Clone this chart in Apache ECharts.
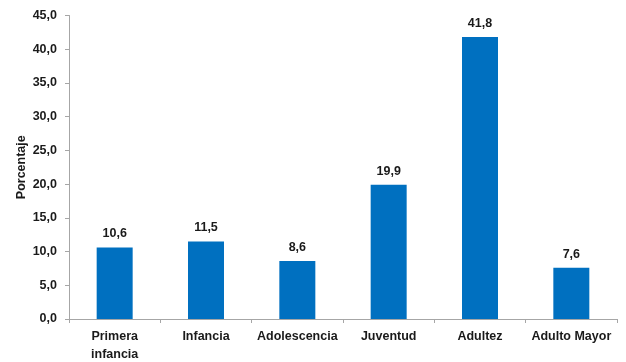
<!DOCTYPE html>
<html>
<head>
<meta charset="utf-8">
<script src="https://cdn.jsdelivr.net/npm/echarts@6/dist/echarts.min.js"></script>
<style>
  html, body { margin: 0; padding: 0; background: #fff; }
  #chart { width: 626px; height: 362px; }
</style>
</head>
<body>
<div id="chart"></div>
<script>
// Distribución porcentual por ciclo de vida
const categories = ['Primera\ninfancia', 'Infancia', 'Adolescencia', 'Juventud', 'Adultez', 'Adulto Mayor'];
const values = [10.6, 11.5, 8.6, 19.9, 41.8, 7.6];
const yMin = 0;
const yMax = 45;
const yStep = 5;

const fmt = v => v.toFixed(1).replace('.', ',');
const font = '"Liberation Sans", Arial, sans-serif';
const fs = 12.5;
const axisGrey = '#a6a6a6';
const textColor = '#1a1a1a';

const chart = echarts.init(document.getElementById('chart'), null, { renderer: 'canvas' });
chart.setOption({
  animation: false,
  backgroundColor: '#ffffff',
  grid: { left: 69, right: 9, top: 15.5, bottom: 43, containLabel: false, outerBoundsMode: 'none' },
  xAxis: {
    type: 'category',
    data: categories,
    axisLine: { lineStyle: { color: axisGrey, width: 1 } },
    axisTick: { show: true, alignWithLabel: false, length: 4, lineStyle: { color: axisGrey } },
    axisLabel: {
      color: textColor, fontFamily: font, fontWeight: 'bold', fontSize: fs,
      margin: 9, lineHeight: 18, interval: 0
    }
  },
  yAxis: {
    type: 'value',
    min: yMin, max: yMax, interval: yStep,
    name: 'Porcentaje',
    nameLocation: 'middle',
    nameGap: 41,
    nameMoveOverlap: false,
    nameTextStyle: { color: textColor, fontFamily: font, fontWeight: 'bold', fontSize: fs },
    axisLine: { show: true, lineStyle: { color: axisGrey, width: 1 } },
    axisTick: { show: true, length: 4, lineStyle: { color: axisGrey } },
    splitLine: { show: false },
    axisLabel: {
      color: textColor, fontFamily: font, fontWeight: 'bold', fontSize: fs,
      margin: 12, formatter: v => fmt(v)
    }
  },
  series: [{
    type: 'bar',
    data: values,
    barWidth: 36,
    itemStyle: { color: '#0070c0' },
    label: {
      show: true, position: 'top', distance: 7,
      color: textColor, fontFamily: font, fontWeight: 'bold', fontSize: fs,
      formatter: p => fmt(p.value)
    }
  }]
});
</script>
</body>
</html>
